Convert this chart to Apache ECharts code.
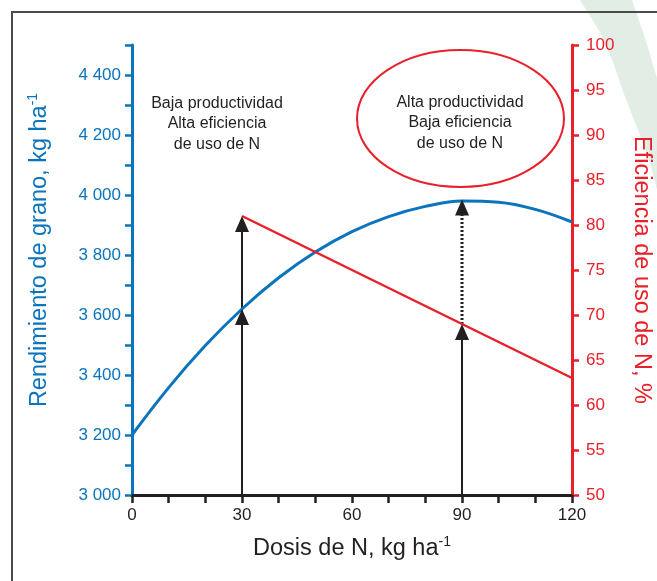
<!DOCTYPE html>
<html><head><meta charset="utf-8">
<script src="https://cdn.jsdelivr.net/npm/echarts@6/dist/echarts.min.js"></script>
<style>html,body{margin:0;padding:0;background:#fff}#c{width:657px;height:581px}</style>
</head><body><div id="c"></div>
<script>
// ---- data ----
const doses      = [0, 10, 20, 30, 40, 50, 60, 70, 80, 90, 100, 110, 120];
const yieldVals  = [3200, 3358, 3498, 3620, 3724, 3810, 3878, 3928, 3962, 3980, 3976, 3952, 3910];
const effDoses   = [30, 120];
const effVals    = [81, 63];
const xTickLabels     = [0, 30, 60, 90, 120];
const yieldTickLabels = [3000, 3200, 3400, 3600, 3800, 4000, 4200, 4400];
const effTickLabels   = [50, 55, 60, 65, 70, 75, 80, 85, 90, 95, 100];
const arrowDoses      = [30, 90];
const arrowYieldTips  = [3620, 3985];   // arrows pointing at yield curve
const arrowEffTips    = [81, 69];       // arrows pointing at efficiency line
const leftNote  = ['Baja productividad', 'Alta eficiencia', 'de uso de N'];
const rightNote = ['Alta productividad', 'Baja eficiencia', 'de uso de N'];

const Y_MIN = 3000, Y_MAX = 4500, E_MIN = 50, E_MAX = 100;
const effToYield = e => Y_MIN + (e - E_MIN) * (Y_MAX - Y_MIN) / (E_MAX - E_MIN);

const BLUE = '#0a74bc', RED = '#e8202a', BLACK = '#231f20';
const FONT = 'Liberation Sans, Arial, sans-serif';

const chart = echarts.init(document.getElementById('c'), null, {renderer: 'canvas'});
const fmtThousands = v => String(v).replace(/\B(?=(\d{3})+$)/g, ' ');

const arrowSym = {symbol: 'triangle', symbolSize: [14, 16], symbolOffset: [0, 8]};

chart.setOption({
  animation: false,
  grid: {left: 132, right: 85, top: 45, bottom: 86, containLabel: false},
  xAxis: {
    type: 'value', min: 0, max: 120, interval: 10,
    axisLine: {show: true, onZero: false, lineStyle: {color: BLACK, width: 3}},
    axisTick: {show: true, length: 8, lineStyle: {color: BLACK, width: 2.5}},
    axisLabel: {margin: 12, color: BLACK, fontSize: 17, fontFamily: FONT,
      formatter: v => xTickLabels.includes(v) ? String(v) : ''},
    splitLine: {show: false}
  },
  yAxis: [{
    type: 'value', position: 'left', min: Y_MIN, max: Y_MAX, interval: 100,
    axisLine: {show: true, onZero: false, lineStyle: {color: BLUE, width: 3}},
    axisTick: {show: true, length: 7, lineStyle: {color: BLUE, width: 2.5}},
    axisLabel: {margin: 11, color: BLUE, fontSize: 17, fontFamily: FONT,
      formatter: v => yieldTickLabels.includes(v) ? fmtThousands(v) : ''},
    splitLine: {show: false}
  }, {
    type: 'value', position: 'right', min: E_MIN, max: E_MAX, interval: 5,
    axisLine: {show: true, onZero: false, lineStyle: {color: RED, width: 3}},
    axisTick: {show: true, length: 7, lineStyle: {color: RED, width: 2.5}},
    axisLabel: {margin: 14, color: RED, fontSize: 17, fontFamily: FONT,
      formatter: v => effTickLabels.includes(v) ? String(v) : ''},
    splitLine: {show: false}
  }],
  series: [
    {type: 'line', name: 'vline30', yAxisIndex: 1, symbol: 'none', z: 3,
      data: [[arrowDoses[0], E_MIN], [arrowDoses[0], arrowEffTips[0] - 1]],
      lineStyle: {color: BLACK, width: 2}},
    {type: 'line', name: 'vline90', yAxisIndex: 1, symbol: 'none', z: 3,
      data: [[arrowDoses[1], E_MIN], [arrowDoses[1], arrowEffTips[1] - 1]],
      lineStyle: {color: BLACK, width: 2}},
    {type: 'line', name: 'dotted90', yAxisIndex: 0, symbol: 'none', z: 3,
      data: [[arrowDoses[1], effToYield(arrowEffTips[1])], [arrowDoses[1], arrowYieldTips[1] - 30]],
      lineStyle: {color: BLACK, width: 3, type: [2, 2]}},
    {type: 'line', name: 'Rendimiento', yAxisIndex: 0, smooth: 0.4, symbol: 'none', z: 4,
      data: doses.map((d, i) => [d, yieldVals[i]]),
      lineStyle: {color: BLUE, width: 3}},
    {type: 'line', name: 'Eficiencia', yAxisIndex: 1, symbol: 'none', z: 4,
      data: effDoses.map((d, i) => [d, effVals[i]]),
      lineStyle: {color: RED, width: 2.5}},
    Object.assign({type: 'scatter', yAxisIndex: 0, z: 6, itemStyle: {color: BLACK, opacity: 1},
      data: arrowDoses.map((d, i) => [d, arrowYieldTips[i]])}, arrowSym),
    Object.assign({type: 'scatter', yAxisIndex: 1, z: 5, itemStyle: {color: BLACK, opacity: 1},
      data: arrowDoses.map((d, i) => [d, arrowEffTips[i]])}, arrowSym)
  ],
  graphic: [
    {type: 'polygon', z: -10, silent: true,
      shape: {points: [[580, 0], [600, 32], [613, 62], [625, 97], [638, 130], [650, 163], [657, 190],
                       [657, 78], [645, 38], [632, 0]]},
      style: {fill: '#e2ede5'}},
    {type: 'polyline', z: 10, silent: true,
      shape: {points: [[12, 590], [12, 12], [670, 12]]},
      style: {stroke: '#4a4a4a', lineWidth: 2, fill: null}},
    {type: 'ellipse', z: 10, silent: true,
      shape: {cx: 460.5, cy: 118.5, rx: 103.5, ry: 68.5},
      style: {stroke: RED, lineWidth: 2, fill: null}},
    {type: 'text', z: 10, silent: true, position: [217, 124],
      style: {text: leftNote.join('\n'), fill: '#231f20', font: '16px ' + FONT, lineHeight: 20.5,
        align: 'center', verticalAlign: 'middle'}},
    {type: 'text', z: 10, silent: true, position: [460, 123],
      style: {text: rightNote.join('\n'), fill: '#231f20', font: '16px ' + FONT, lineHeight: 20.5,
        align: 'center', verticalAlign: 'middle'}},
    {type: 'text', z: 10, silent: true, position: [40, 250], rotation: Math.PI / 2,
      style: {text: '{a|Rendimiento de grano, kg ha}{s|-1}', align: 'center', verticalAlign: 'middle',
        rich: {a: {fontSize: 23.5, fontFamily: FONT, fill: BLUE, color: BLUE, lineHeight: 28},
               s: {fontSize: 14, fontFamily: FONT, fill: BLUE, color: BLUE, lineHeight: 16, verticalAlign: 'top'}}}},
    {type: 'text', z: 10, silent: true, position: [641, 270], rotation: -Math.PI / 2,
      style: {text: 'Eficiencia de uso de N, %', align: 'center', verticalAlign: 'middle',
        font: '23.5px ' + FONT, fill: RED}},
    {type: 'text', z: 10, silent: true, position: [352, 549],
      style: {text: '{a|Dosis de N, kg ha}{s|-1}', align: 'center', verticalAlign: 'middle',
        rich: {a: {fontSize: 23.5, fontFamily: FONT, fill: BLACK, color: BLACK, lineHeight: 28},
               s: {fontSize: 14, fontFamily: FONT, fill: BLACK, color: BLACK, lineHeight: 16, verticalAlign: 'top'}}}}
  ]
});
</script></body></html>
